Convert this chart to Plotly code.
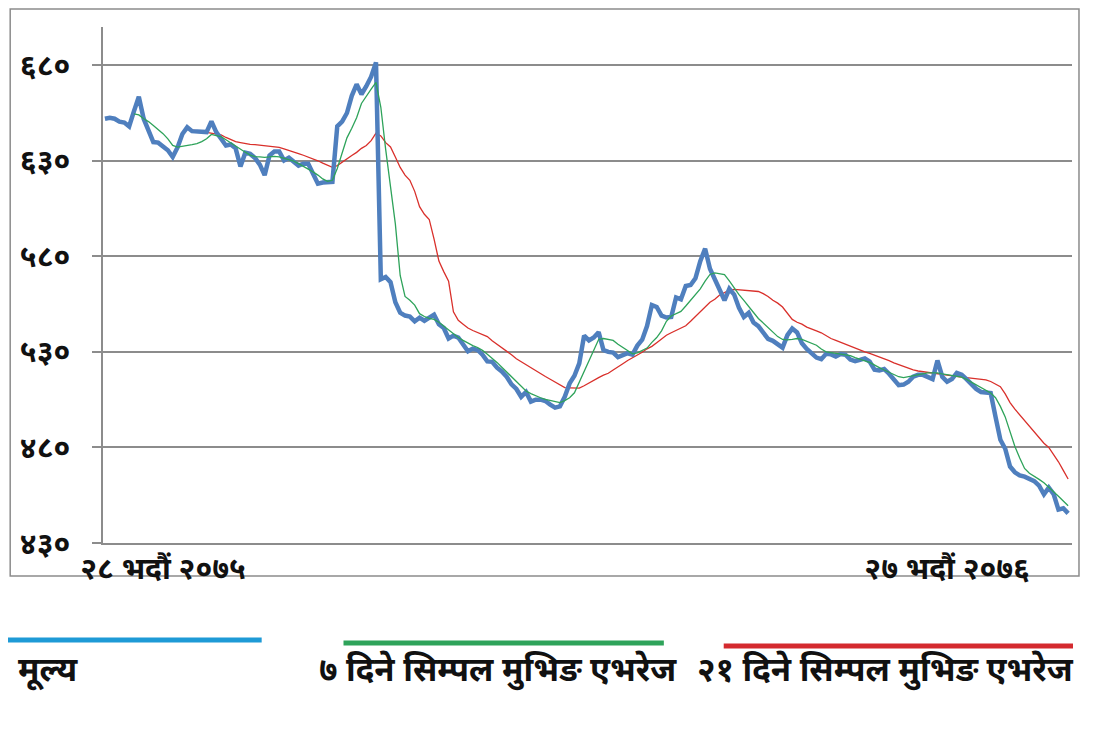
import plotly.graph_objects as go

# daily closing price (one value per trading day)
price = [
    652, 652.5, 652, 650.5, 650, 648, 656, 663.5, 652, 646,
    639.8, 639.5, 637.5, 635.5, 632, 637, 644, 647.5, 645.5, 645.2,
    645, 645, 650.6, 645, 641.5, 638, 638.5, 636.5, 627, 634.2,
    633.6, 631.5, 628, 622.5, 632.8, 634.9, 634.9, 630.2, 631.6, 629.5,
    627.5, 628.5, 628.5, 623.2, 618, 618.6, 618.7, 619, 648, 650.5,
    655, 664, 670, 664.8, 669, 674, 681.5, 568, 569.2, 566.5,
    556, 550.5, 549, 548.5, 546, 547.9, 546.3, 548, 549.5, 544.5,
    542.5, 537, 538.5, 537.5, 534, 530.3, 531.7, 531, 528.5, 525,
    524.8, 521.8, 519.8, 517, 513, 510.6, 506.5, 509, 504, 505,
    505, 504.3, 502.4, 500.8, 501.5, 506.5, 513.5, 517.5, 524, 538.5,
    536, 537.5, 540.3, 531, 530, 529.6, 527.3, 528.5, 529.3, 528.6,
    533.3, 536.4, 543.5, 554.5, 553.5, 549, 548, 548.3, 558.5, 557.5,
    564.5, 565, 568.5, 577.5, 584, 573.5, 567.8, 562.8, 557, 563,
    560, 553, 548.3, 550.4, 545.4, 543.5, 540.5, 536.8, 535.8, 534.3,
    532.2, 538.8, 542.2, 540.2, 534.5, 531.5, 529.5, 527, 526.2, 529,
    528.7, 527.6, 528.9, 528.5, 526, 525.2, 525.8, 526.6, 524.9, 520.7,
    520.3, 521, 518.6, 515.5, 512.6, 512.9, 514.4, 517, 518, 518,
    516.8, 515.8, 525.5, 517, 514.4, 515.8, 519, 518.1, 515.7, 512.8,
    510.6, 509, 508.7, 508.5, 496, 484, 479.3, 470, 467, 465.4,
    464.7, 463.7, 462.4, 460, 455.5, 459, 455.6, 447.5, 448.2, 445.5,
]

# 7-day simple moving average, starts on day 6
sma7_start = 6
sma7 = [
    654.5, 654, 652, 650.5, 648.5, 646.5, 644.2, 641.5, 638, 637.2,
    637.5, 638, 638.5, 639, 640, 641.5, 643.8, 643.2, 642.6, 641,
    639.3, 637.5, 635.8, 634.5, 633, 632.2, 632, 631.8, 632, 632.3,
    632, 631.3, 630.8, 629.8, 628.5, 627.2, 625.8, 624.2, 622.5, 620.5,
    619.2, 619.8, 626, 634, 642, 647, 652.5, 660, 664, 667.5,
    671, 658, 636, 616, 597, 570, 559, 557, 554.5, 550,
    548.5, 547.5, 547, 545.5, 543.5, 541.5, 539.5, 537.5, 536, 534.5,
    533.3, 532.3, 530.8, 528.8, 526.8, 524.5, 522, 519.5, 517, 514,
    511.5, 509.5, 508.2, 507, 506, 505.2, 504.5, 503.8, 503.5, 504.5,
    506, 508.6, 514, 520, 525, 531, 536.5, 537, 536.4, 536,
    534, 532.3, 530.5, 529, 529.5, 530.7, 532, 535, 537.5, 541,
    546, 548.8, 550, 551.2, 554, 557, 559.5, 563, 567, 570.5,
    571.3, 571, 570.4, 567.2, 563.5, 560, 557, 553.5, 550.6, 547.5,
    545, 543, 540.5, 538, 536.5, 536.3, 536.6, 537, 536.5, 535.4,
    534.5, 533.5, 531.5, 530, 529.6, 529.2, 528.8, 528.6, 528, 527,
    526, 525.3, 524.5, 523, 521.8, 520.5, 519.4, 518.3, 517, 516.5,
    517, 517.8, 518.2, 518.6, 519, 519, 519, 518.5, 518, 517.8,
    517.3, 516.8, 515.6, 514.2, 512.8, 511.5, 510, 508.5, 506, 501.5,
    496, 487.7, 480.5, 474.5, 469, 466.5, 465, 463.3, 461.5, 459.3,
    457, 454.5, 452, 449.5,
]

# 21-day simple moving average, starts on day 17
sma21_start = 17
sma21 = [
    646.5, 646, 645.5, 645.2, 644.9, 644.5, 644.1, 643.5, 642.2, 641,
    640, 639.5, 639, 638.6, 638.4, 638.1, 637.9, 637.7, 637.5, 637,
    636.2, 635.5, 634.9, 633.8, 632.9, 632, 631.2, 630, 628.8, 627.6,
    626.6, 627.5, 629.4, 631, 632.8, 634.4, 636.5, 638, 640.5, 644.5,
    643, 639.5, 637.2, 632, 626.5, 622.5, 619.8, 614, 606, 602,
    599.3, 589, 577.5, 572, 567, 551, 546.5, 544.5, 542.5, 541.2,
    540.2, 539.3, 538, 535.8, 534, 532.5, 530.5, 528.5, 526.4, 524.8,
    523.2, 521.7, 520.3, 518.7, 517.1, 515.7, 514.2, 512.6, 511.3, 511.2,
    511.1, 511, 512.3, 513.8, 515.3, 516.5, 517.8, 518.8, 520.5, 522,
    523.8, 525.5, 526.8, 528.2, 529.8, 531.6, 532.9, 534.8, 536.7, 538.7,
    540, 541.3, 542.5, 543.7, 546, 548.5, 550.5, 553.2, 556, 557.5,
    559.8, 561, 562.3, 562.7, 562.5, 562.2, 562, 561.9, 561.6, 560.5,
    559, 557, 555.5, 553.5, 550.5, 547, 545.5, 544.5, 543, 541.8,
    541, 540, 538.5, 537, 536, 535, 533.8, 532.7, 531.6, 530.8,
    530, 529.2, 528.3, 527.6, 526.5, 525.4, 524.3, 523.3, 522.2, 521.4,
    520.6, 520, 519.6, 519.3, 519, 518.6, 518.3, 518, 517.6, 517.2,
    516.8, 516.5, 516.2, 516, 515.7, 515.4, 514.5, 513.2, 511.8, 508,
    503.5, 500, 497, 494, 491, 488.2, 485, 482.2, 480, 476.5,
    472.5, 468, 463.5,
]

y_ticks = [430, 480, 530, 580, 630, 680]
y_tick_text = ["४३०", "४८०", "५३०", "५८०", "६३०", "६८०"]
date_labels = ["२८ भदौं २०७५", "२७ भदौं २०७६"]
date_positions = [12, 174]

legend_names = ["मूल्य", "७ दिने सिम्पल मुभिङ एभरेज", "२१ दिने सिम्पल मुभिङ एभरेज"]

FONT = "Noto Sans Devanagari, Lohit Devanagari, FreeSans, Noto Sans, sans-serif"
BLUE = "#4F7FBE"
GREEN = "#2EA35A"
RED = "#D9302B"

days = list(range(len(price)))

fig = go.Figure()
fig.add_trace(go.Scatter(x=list(range(sma21_start, sma21_start + len(sma21))), y=sma21,
                         mode="lines", line=dict(color=RED, width=1.3), name=legend_names[2]))
fig.add_trace(go.Scatter(x=days, y=price, mode="lines",
                         line=dict(color=BLUE, width=4.5), name=legend_names[0]))
fig.add_trace(go.Scatter(x=list(range(sma7_start, sma7_start + len(sma7))), y=sma7,
                         mode="lines", line=dict(color=GREEN, width=1.3), name=legend_names[1]))

# the page body adds an 8px margin, so work in target pixels minus that offset
OFF = 8
L, R, T, B = 101 - OFF, 1072 - OFF, 27 - OFF, 543 - OFF
W, H = R - L, B - T


def px(x):
    return (x - OFF - L) / W


def py(y):
    return (B - (y - OFF)) / H


shapes = [
    # outer frame
    dict(type="rect", xref="paper", yref="paper", x0=px(8), x1=px(1079), y0=py(576), y1=py(9),
         line=dict(color="#8c8c8c", width=1.5), layer="below"),
    # custom legend swatches
    dict(type="line", xref="paper", yref="paper", x0=px(4), x1=px(260), y0=py(640), y1=py(640),
         line=dict(color="#1E9AD6", width=5)),
    dict(type="line", xref="paper", yref="paper", x0=px(342), x1=px(663), y0=py(643), y1=py(643),
         line=dict(color="#2EA35A", width=5)),
    dict(type="line", xref="paper", yref="paper", x0=px(723), x1=px(1073), y0=py(646), y1=py(646),
         line=dict(color="#D42A2F", width=5)),
]

annotations = [
    dict(text=f"<b>{legend_names[0]}</b>", x=px(14), y=py(672), xanchor="left", yanchor="middle"),
    dict(text=f"<b>{legend_names[1]}</b>", x=px(678), y=py(672), xanchor="right", yanchor="middle"),
    dict(text=f"<b>{legend_names[2]}</b>", x=px(1076), y=py(672), xanchor="right", yanchor="middle"),
]
for a in annotations:
    a.update(xref="paper", yref="paper", showarrow=False,
             font=dict(family=FONT, size=33, color="#111"))

fig.update_layout(
    width=1100, height=734,
    margin=dict(l=L, r=1100 - R, t=T, b=734 - B),
    paper_bgcolor="white", plot_bgcolor="white",
    showlegend=False,
    shapes=shapes, annotations=annotations,
    font=dict(family=FONT, color="#111"),
)
fig.update_xaxes(
    range=[-0.4, 199.8], showgrid=False, zeroline=False,
    showline=True, linecolor="#8c8c8c", linewidth=1.5,
    tickvals=date_positions, ticktext=[f"<b>{t}</b>" for t in date_labels],
    ticks="", tickfont=dict(size=30, family=FONT, color="#111"),
    ticklabelstandoff=-2,
)
fig.update_yaxes(
    range=[430, 700], tickvals=y_ticks, ticktext=[f"<b>{t}</b>" for t in y_tick_text],
    showgrid=True, gridcolor="#8c8c8c", gridwidth=1.5, zeroline=False,
    showline=True, linecolor="#8c8c8c", linewidth=1.5,
    ticks="outside", ticklen=9, tickcolor="#8c8c8c", tickwidth=1.5,
    ticklabelstandoff=16,
    tickfont=dict(size=30, family=FONT, color="#111"),
)

fig.write_html("out.html")
